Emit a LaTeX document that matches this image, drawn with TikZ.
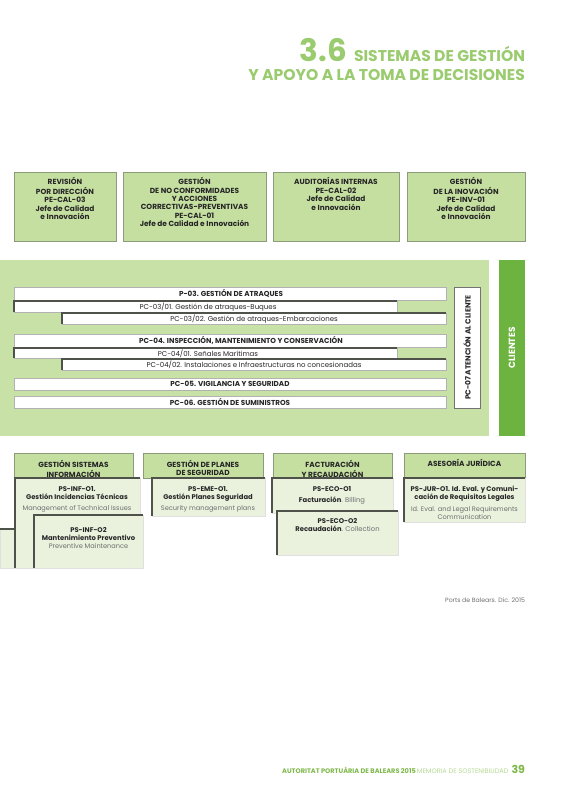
\documentclass[tikz,border=0pt]{standalone}
\usepackage{fontspec}
\setmainfont{Poppins}
\usetikzlibrary{fit,calc}
\definecolor{gbox}{HTML}{C5DFA1}
\definecolor{gband}{HTML}{C8E1A6}
\definecolor{glight}{HTML}{EAF2DE}
\definecolor{gdark}{HTML}{6DB33F}
\definecolor{gtitle}{HTML}{9ACB6E}
\definecolor{gfoot}{HTML}{7DB84A}
\definecolor{gfootl}{HTML}{B5DA95}
\definecolor{bord}{HTML}{8C9C7A}
\definecolor{shd}{HTML}{4E524A}
\definecolor{txt}{HTML}{262626}
\definecolor{subtxt}{HTML}{6E6E6E}
\newcommand\toplines[1]{\begin{tabular}[t]{@{}c@{}}#1\end{tabular}}
\begin{document}
\begin{tikzpicture}[x=1pt,y=-1pt,
  every node/.style={inner sep=0pt, outer sep=0pt, text=txt},
  topbox/.style={draw=bord, fill=gbox, line width=0.6pt},
  hdrbox/.style={draw=bord, fill=gbox, line width=0.6pt},
  subbox/.style={draw=black!12, fill=glight, line width=0.4pt},
  bar/.style={draw=black!30, fill=white, line width=0.4pt},
  tlshadow/.style={draw=shd, line width=1.3pt},
  ttxt/.style={font=\fontsize{7.4}{8.3}\selectfont\bfseries, anchor=base},
  btxt/.style={font=\fontsize{6.8}{8.3}\selectfont\bfseries, anchor=base},
  bartb/.style={font=\fontsize{7.2}{8}\selectfont\bfseries},
  bartr/.style={font=\fontsize{7}{8}\selectfont},
  gtxt/.style={font=\fontsize{6.6}{8}\selectfont, text=subtxt, anchor=base},
]
\useasboundingbox (0,0) rectangle (565,800);

% title
\node[anchor=base east, text=gtitle, font=\fontsize{31}{31}\selectfont\bfseries] (t36) at (347,62) {3.6};
\node[anchor=base east, text=gtitle, font=\fontsize{15.6}{15.6}\selectfont\bfseries] (t1) at (525,62) {SISTEMAS DE GESTIÓN};
\node[anchor=base east, text=gtitle, font=\fontsize{15.6}{15.6}\selectfont\bfseries] (t2) at (525,81) {Y APOYO A LA TOMA DE DECISIONES};

% top boxes
\node[topbox, fit={(14,172) (116,241)}] (b1) {};
\node[topbox, fit={(123,172) (266,241)}] (b2) {};
\node[topbox, fit={(273,172) (399,241)}] (b3) {};
\node[topbox, fit={(407,172) (525,241)}] (b4) {};
\node[ttxt] (b1t) at (65,184.8) {\toplines{REVISIÓN\\POR DIRECCIÓN\\PE-CAL-03\\Jefe de Calidad\\e Innovación}};
\node[ttxt] (b2t) at (194.5,184.8) {\toplines{GESTIÓN\\DE NO CONFORMIDADES\\Y ACCIONES\\CORRECTIVAS-PREVENTIVAS\\PE-CAL-01\\Jefe de Calidad e Innovación}};
\node[ttxt] (b3t) at (336,184.8) {\toplines{AUDITORÍAS INTERNAS\\PE-CAL-02\\Jefe de Calidad\\e Innovación}};
\node[ttxt] (b4t) at (466,184.8) {\toplines{GESTIÓN\\DE LA INOVACIÓN\\PE-INV-01\\Jefe de Calidad\\e Innovación}};

% band
\fill[gband] (0,260) rectangle (489,436);
\node[fill=gdark, fit={(499,260) (525,436)}] (cli) {};
\node[rotate=90, text=white, font=\fontsize{9}{9}\selectfont\bfseries] (clit) at (cli.center) {CLIENTES};

\node[bar, fit={(14,287) (446,300)}] (p03) {};
\node[bartb] at (231,293.5) {P-03. GESTIÓN DE ATRAQUES};
\node[bar, fit={(14,301) (397,312)}] (p0301) {};
\node[bartr] at (208,306.8) {PC-03/01. Gestión de atraques-Buques};
\node[bar, fit={(62,313) (446,324)}] (p0302) {};
\node[bartr] at (254,318.8) {PC-03/02. Gestión de atraques-Embarcaciones};
\draw[tlshadow] (p0301.south west) |- (p0301.north east);
\draw[tlshadow] (p0302.south west) |- (p0302.north east);

\node[bar, fit={(14,334) (446,347)}] (p04) {};
\node[bartb] at (241,340.5) {PC-04. INSPECCIÓN, MANTENIMIENTO Y CONSERVACIÓN};
\node[bar, fit={(14,348) (397,358)}] (p0401) {};
\node[bartr] at (208,353.3) {PC-04/01. Señales Marítimas};
\node[bar, fit={(62,359) (446,370)}] (p0402) {};
\node[bartr] at (254,364.8) {PC-04/02. Instalaciones e Infraestructuras no concesionadas};
\draw[tlshadow] (p0401.south west) |- (p0401.north east);
\draw[tlshadow] (p0402.south west) |- (p0402.north east);

\node[bar, fit={(14,378) (446,390)}] (p05) {};
\node[bartb] at (230,384) {PC-05. VIGILANCIA Y SEGURIDAD};
\node[bar, fit={(14,396) (446,408)}] (p06) {};
\node[bartb] at (230,402) {PC-06. GESTIÓN DE SUMINISTROS};

\node[draw=black!55, fill=white, line width=0.6pt, fit={(454,287) (480,408)}] (p07) {};
\node[rotate=90, font=\fontsize{7.4}{8}\selectfont\bfseries] at (p07.center) {PC-07 ATENCIÓN AL CLIENTE};

% bottom headers
\node[hdrbox, fit={(14,453) (133,478)}] (h1) {};
\node[hdrbox, fit={(143,453) (263,478)}] (h2) {};
\node[hdrbox, fit={(273,453) (392,478)}] (h3) {};
\node[hdrbox, fit={(404,453) (525,478)}] (h4) {};
\node[ttxt] at (73.5,467.5) {\toplines{GESTIÓN SISTEMAS\\INFORMACIÓN}};
\node[ttxt] at (203,467.5) {\toplines{GESTIÓN DE PLANES\\DE SEGURIDAD}};
\node[ttxt] at (332.5,467.5) {\toplines{FACTURACIÓN\\Y RECAUDACIÓN}};
\node[ttxt] at (464.5,466.8) {ASESORÍA JURÍDICA};

% sub boxes
\node[subbox, fit={(0,529) (15,568)}] (s0) {};
\draw[tlshadow] (s0.north west) -- (s0.north east);
\node[subbox, fit={(15,478) (140,568)}] (inf1) {};
\draw[tlshadow] (inf1.south west) |- (inf1.north east);
\node[btxt] at (77,491) {\toplines{PS-INF-O1.\\Gestión Incidencias Técnicas}};
\node[gtxt] at (77,510.5) {Management of Technical Issues};
\node[subbox, fit={(34,515) (143,568)}] (inf2) {};
\draw[tlshadow] (inf2.south west) |- (inf2.north east);
\node[btxt] at (88.5,532) {\toplines{PS-INF-O2\\Mantenimiento Preventivo}};
\node[gtxt] at (88.5,548) {Preventive Maintenance};

\node[subbox, fit={(152,478) (265,516)}] (eme) {};
\draw[tlshadow] (eme.south west) |- (eme.north east);
\node[btxt] at (208,491) {\toplines{PS-EME-O1.\\Gestión Planes Seguridad}};
\node[gtxt] at (208,510.5) {Security management plans};

\node[subbox, fit={(272,478) (393,513)}] (eco1) {};
\draw[tlshadow] (eco1.south west) |- (eco1.north east);
\node[btxt] at (332,491) {PS-ECO-O1};
\node[btxt] at (332,502.5) {Facturación\textcolor{subtxt}{\mdseries. Billing}};
\node[subbox, fit={(277,511) (398,555)}] (eco2) {};
\draw[tlshadow] (eco2.south west) |- (eco2.north east);
\node[btxt] at (337.5,523.5) {\toplines{PS-ECO-O2\\Recaudación\textcolor{subtxt}{\mdseries. Collection}}};

\node[subbox, fit={(404,478) (525,522)}] (jur) {};
\draw[tlshadow] (jur.south west) |- (jur.north east);
\node[btxt] at (464.5,491.5) {\toplines{PS-JUR-O1. Id. Eval. y Comuni-\\cación de Requisitos Legales}};
\node[gtxt] at (464.5,511) {\toplines{Id. Eval. and Legal Requirements\\Communication}};

% source
\node[anchor=base east, text=subtxt, font=\fontsize{6.2}{7}\selectfont] (src) at (525,602) {Ports de Balears. Dic. 2015};

% footer
\node[anchor=base east, text=gfoot, font=\fontsize{11}{11}\selectfont\bfseries] (pg) at (525,773) {39};
\node[anchor=base east, font=\fontsize{6.6}{7}\selectfont] (ft) at ([xshift=-3pt]pg.base west) {\textcolor{gfoot}{\bfseries AUTORITAT PORTUÀRIA DE BALEARS 2015}\textcolor{gfootl}{\,MEMORIA DE SOSTENIBILIDAD}};
\end{tikzpicture}
\end{document}
